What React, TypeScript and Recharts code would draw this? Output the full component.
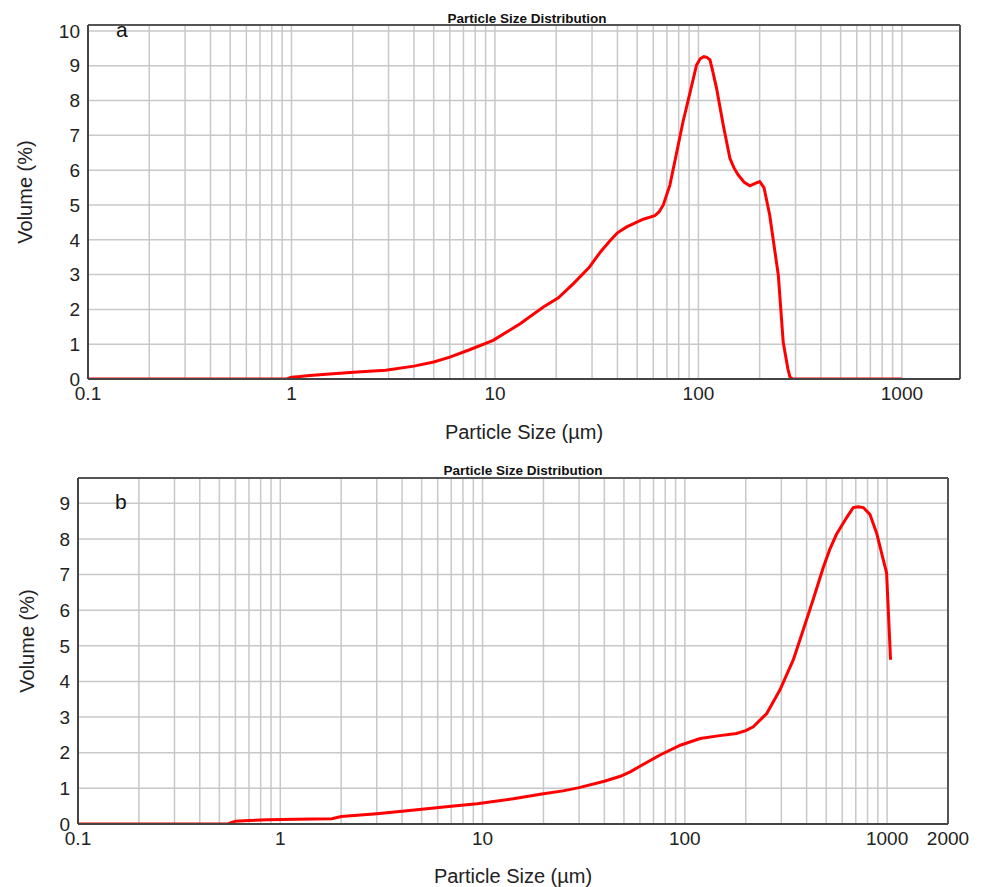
import { CartesianGrid, Line, LineChart, ReferenceLine, XAxis, YAxis } from "recharts";

// particle size (µm) and volume (%)
const sizesA = [
  0.1, 0.95, 1.0, 1.1, 1.23, 1.6, 2.1, 2.9, 4.0, 5.0, 6.0, 7.5, 9.8, 13.3, 17.3, 20.5, 24.3, 29, 33, 36.5,
  40, 44.4, 53.6, 61, 64, 67.2, 72.4, 78, 84, 90.8, 97.9, 102, 106.4, 110, 114, 118, 122.8, 132.4, 142.8,
  150, 157, 168, 179, 190, 200, 210, 224, 247, 261, 275, 282, 290, 1000,
];
const volumeA = [
  0, 0, 0.05, 0.07, 0.1, 0.15, 0.2, 0.25, 0.37, 0.49, 0.63, 0.84, 1.11, 1.59, 2.07, 2.33, 2.74, 3.2, 3.65, 3.95,
  4.2, 4.37, 4.59, 4.69, 4.8, 5.0, 5.57, 6.48, 7.39, 8.21, 9.02, 9.2, 9.26, 9.24, 9.17, 8.8, 8.35, 7.3, 6.34,
  6.05, 5.86, 5.65, 5.55, 5.62, 5.67, 5.5, 4.71, 2.98, 1.06, 0.3, 0.05, 0, 0,
];

const sizesB = [
  0.1, 0.55, 0.6, 0.7, 0.86, 1.2, 1.8, 2.0, 3.0, 4.0, 5.3, 7.0, 9.4, 14.2, 20, 25, 30, 40, 48, 54, 60, 75, 95,
  119, 149, 180, 200, 218, 254, 295, 344, 385, 431, 483, 520, 562, 631, 680, 720, 763, 822, 887, 957, 994, 1040,
];
const volumeB = [
  0, 0, 0.08, 0.1, 0.12, 0.13, 0.15, 0.21, 0.29, 0.36, 0.43, 0.5, 0.57, 0.71, 0.85, 0.93, 1.02, 1.2, 1.34, 1.47,
  1.62, 1.93, 2.21, 2.4, 2.48, 2.54, 2.62, 2.73, 3.1, 3.76, 4.61, 5.45, 6.3, 7.19, 7.7, 8.13, 8.6, 8.88, 8.9,
  8.88, 8.69, 8.17, 7.42, 7.05, 4.61,
];

// log grid lines (1..9 per decade)
const gridTicksA = [
  0.1, 0.2, 0.3, 0.4, 0.5, 0.6, 0.7, 0.8, 0.9,
  1, 2, 3, 4, 5, 6, 7, 8, 9,
  10, 20, 30, 40, 50, 60, 70, 80, 90,
  100, 200, 300, 400, 500, 600, 700, 800, 900,
  1000,
];
const gridTicksB = [...gridTicksA, 2000];
const labelsA = [0.1, 1, 10, 100, 1000];
const labelsB = [0.1, 1, 10, 100, 1000, 2000];

const yTicksA = [0, 1, 2, 3, 4, 5, 6, 7, 8, 9, 10];
const yTicksB = [0, 1, 2, 3, 4, 5, 6, 7, 8, 9];

const X_MIN = 0.1;
const X_MAX_A = 1930;
const X_MAX_B = 2000;
const Y_MAX_A = 10.17;
const Y_MAX_B = 9.71;

const dataA = sizesA.map((size, i) => ({ size, volume: volumeA[i] }));
const dataB = sizesB.map((size, i) => ({ size, volume: volumeB[i] }));

const FONT = '"Liberation Sans", Arial, sans-serif';
const tickStyle = { fontSize: 19, fill: "#222", fontFamily: FONT };

function volumeLabel(cx: number, lift: number) {
  return (props: any) => {
    const vb = props.viewBox || {};
    const x = (vb.x ?? 0) + cx;
    const y = (vb.y ?? 0) + (vb.height ?? 0) / 2 - lift;
    return (
      <text
        x={x}
        y={y}
        transform={`rotate(-90, ${x}, ${y})`}
        textAnchor="middle"
        dominantBaseline="central"
        fontSize={20}
        fill="#222"
        fontFamily={FONT}
      >
        Volume (%)
      </text>
    );
  };
}

type PanelProps = {
  data: { size: number; volume: number }[];
  height: number;
  margin: { top: number; right: number; left: number; bottom: number };
  yAxisWidth: number;
  xAxisHeight: number;
  xMax: number;
  yMax: number;
  xTicks: number[];
  yTicks: number[];
  xLabels: number[];
  labelOffset: number;
  yLabelX: number;
};

function Panel(p: PanelProps) {
  return (
    <LineChart width={987} height={p.height} data={p.data} margin={p.margin}>
      <CartesianGrid stroke="#c8c8c8" strokeWidth={1.5} />
      <XAxis
        dataKey="size"
        type="number"
        scale="log"
        domain={[X_MIN, p.xMax]}
        allowDataOverflow
        ticks={p.xTicks}
        interval={0}
        tickLine={false}
        tickFormatter={(v) => (p.xLabels.includes(v) ? String(v) : "")}
        tick={tickStyle}
        height={p.xAxisHeight}
        axisLine={{ stroke: "#444", strokeWidth: 2 }}
        label={{
          value: "Particle Size (µm)",
          position: "insideBottom",
          offset: p.labelOffset,
          style: { fontSize: 20, fill: "#222", fontFamily: FONT },
        }}
      />
      <YAxis
        type="number"
        domain={[0, p.yMax]}
        allowDataOverflow
        ticks={p.yTicks}
        interval={0}
        tickLine={false}
        tick={tickStyle}
        width={p.yAxisWidth}
        axisLine={{ stroke: "#444", strokeWidth: 2 }}
        label={volumeLabel(p.yLabelX, 10)}
      />
      <ReferenceLine y={p.yMax} stroke="#555" strokeWidth={2} />
      <ReferenceLine x={p.xMax} stroke="#555" strokeWidth={2} />
      <Line
        type="linear"
        dataKey="volume"
        stroke="#ff0000"
        strokeWidth={3}
        dot={false}
        isAnimationActive={false}
      />
    </LineChart>
  );
}

const titleStyle: React.CSSProperties = {
  position: "absolute",
  transform: "translateX(-50%)",
  fontFamily: FONT,
  fontWeight: "bold",
  fontSize: 13.5,
  lineHeight: 1,
  color: "#111",
  whiteSpace: "nowrap",
};

const letterStyle: React.CSSProperties = {
  position: "absolute",
  fontFamily: FONT,
  fontSize: 21,
  lineHeight: 1,
  color: "#111",
};

export default function App() {
  return (
    <div style={{ position: "absolute", left: 0, top: 0, width: 987, height: 887, background: "#fff" }}>
      <div style={{ position: "absolute", left: 0, top: 0 }}>
        <Panel
          data={dataA}
          height={445}
          margin={{ top: 25, right: 27, left: 0, bottom: 0 }}
          yAxisWidth={88}
          xAxisHeight={66}
          xMax={X_MAX_A}
          yMax={Y_MAX_A}
          xTicks={gridTicksA}
          yTicks={yTicksA}
          xLabels={labelsA}
          labelOffset={6}
          yLabelX={25}
        />
      </div>
      <div style={{ position: "absolute", left: 0, top: 445 }}>
        <Panel
          data={dataB}
          height={442}
          margin={{ top: 33, right: 39, left: 0, bottom: 0 }}
          yAxisWidth={78}
          xAxisHeight={63}
          xMax={X_MAX_B}
          yMax={Y_MAX_B}
          xTicks={gridTicksB}
          yTicks={yTicksB}
          xLabels={labelsB}
          labelOffset={4}
          yLabelX={27}
        />
      </div>
      <div style={{ ...titleStyle, left: 527, top: 12 }}>Particle Size Distribution</div>
      <div style={{ ...titleStyle, left: 523, top: 464 }}>Particle Size Distribution</div>
      <div style={{ ...letterStyle, left: 116, top: 19 }}>a</div>
      <div style={{ ...letterStyle, left: 115, top: 491 }}>b</div>
    </div>
  );
}
